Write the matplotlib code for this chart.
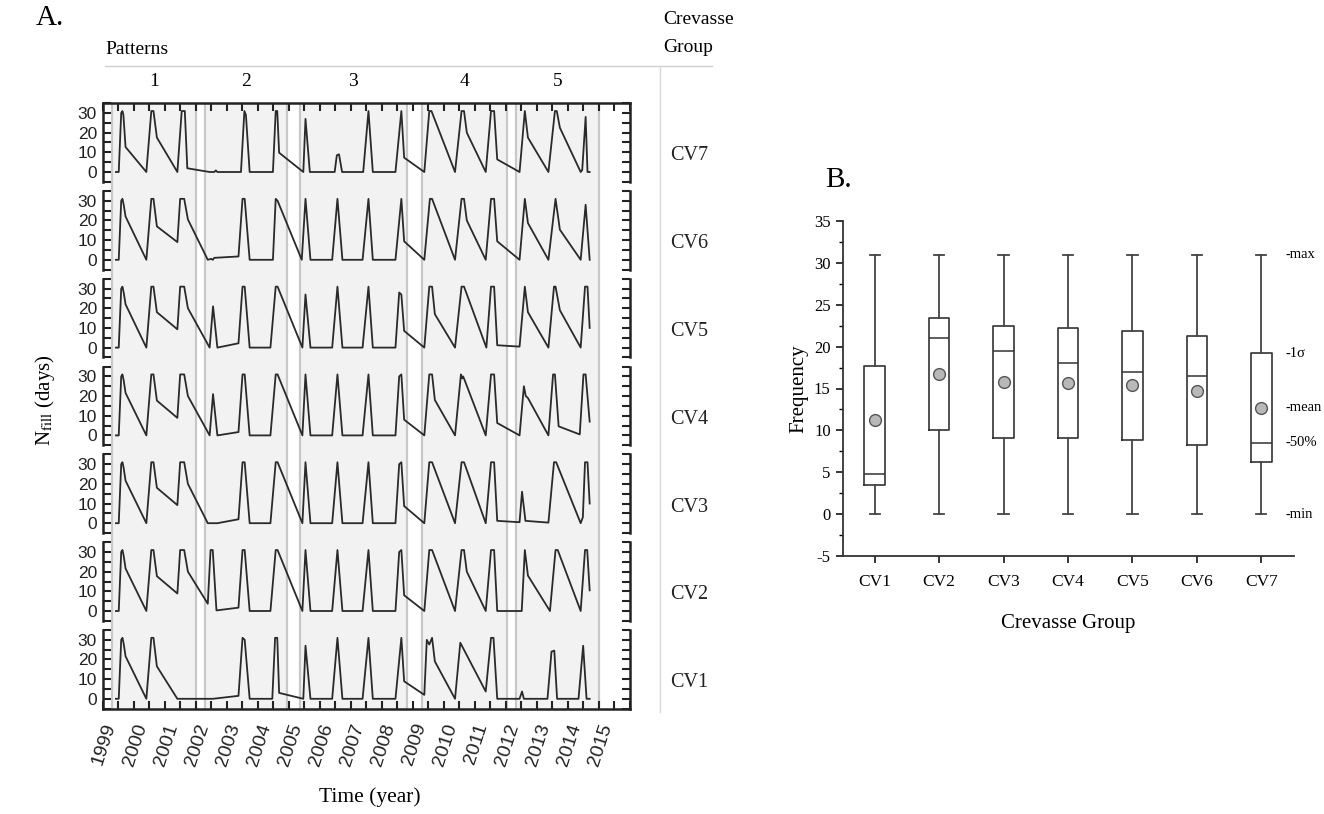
import numpy as np
import matplotlib
matplotlib.use("Agg")
from matplotlib import pyplot as plt
from matplotlib.lines import Line2D
from matplotlib.ticker import MultipleLocator, FixedLocator
import matplotlib.transforms as mtransforms

SERIF = "Liberation Serif"
SANS = "Liberation Sans"
plt.rcParams["axes.unicode_minus"] = False

# N_fill time series (decimal year, days) for each crevasse group
cv7_pts = [(1999.43, 0), (1999.52, 0), (1999.60, 30), (1999.64, 31), (1999.67, 29), (1999.74, 12.7),
           (2000.41, 0), (2000.57, 31), (2000.64, 31), (2000.75, 17.5), (2001.41, 0), (2001.55, 31),
           (2001.65, 31), (2001.73, 1.9), (2002.45, 0), (2002.60, 0), (2002.65, 0.8), (2002.70, 0),
           (2003.46, 0), (2003.57, 31), (2003.62, 29), (2003.74, 0), (2004.49, 0), (2004.58, 31),
           (2004.63, 31), (2004.69, 9.8), (2005.47, 0), (2005.54, 27), (2005.68, 0), (2006.48, 0),
           (2006.55, 8.5), (2006.62, 9), (2006.72, 0), (2007.40, 0), (2007.57, 31), (2007.71, 0),
           (2008.44, 0), (2008.63, 31), (2008.72, 7.3), (2009.37, 0), (2009.53, 31), (2009.60, 31),
           (2010.36, 0), (2010.57, 31), (2010.65, 31), (2010.74, 20), (2011.35, 0), (2011.52, 31),
           (2011.62, 31), (2011.72, 6.4), (2012.44, 0), (2012.61, 31), (2012.71, 17.5), (2013.37, 0),
           (2013.58, 31), (2013.64, 31), (2013.74, 22.5), (2014.41, 0), (2014.46, 1), (2014.57, 28),
           (2014.63, 0), (2014.70, 0)]

cv6_pts = [(1999.43, 0), (1999.52, 0), (1999.60, 30), (1999.64, 31), (1999.68, 28), (1999.74, 22),
           (2000.41, 0), (2000.57, 31), (2000.64, 31), (2000.75, 17), (2001.41, 9), (2001.50, 31),
           (2001.63, 31), (2001.75, 20.5), (2002.39, 0), (2002.50, 0.5), (2002.55, 0), (2002.60, 1),
           (2003.38, 1.7), (2003.51, 31), (2003.58, 31), (2003.74, 0), (2004.49, 0), (2004.58, 31),
           (2004.64, 30), (2005.42, 0), (2005.54, 31), (2005.70, 0), (2006.40, 0), (2006.57, 31),
           (2006.73, 0), (2007.38, 0), (2007.57, 31), (2007.71, 0), (2008.44, 0), (2008.63, 31),
           (2008.72, 9.4), (2009.37, 0), (2009.55, 31), (2009.62, 31), (2010.36, 0), (2010.57, 31),
           (2010.65, 31), (2010.74, 20), (2011.35, 0), (2011.52, 31), (2011.62, 31), (2011.72, 9.4),
           (2012.44, 0), (2012.61, 31), (2012.71, 18.7), (2013.37, 0), (2013.60, 31), (2013.74, 15.3),
           (2014.41, 0), (2014.57, 28), (2014.70, 0)]

cv5_pts = [(1999.43, 0), (1999.52, 0), (1999.60, 30), (1999.64, 31), (1999.68, 28), (1999.74, 22),
           (2000.41, 0), (2000.57, 31), (2000.64, 31), (2000.75, 18), (2001.41, 9.3), (2001.50, 31),
           (2001.63, 31), (2001.75, 20), (2002.45, 0), (2002.56, 21), (2002.70, 0), (2003.38, 2.2),
           (2003.51, 31), (2003.58, 31), (2003.74, 0), (2004.41, 0), (2004.58, 31), (2004.64, 31),
           (2005.44, 0), (2005.54, 27), (2005.70, 0), (2006.40, 0), (2006.57, 31), (2006.73, 0),
           (2007.38, 0), (2007.57, 31), (2007.71, 0), (2008.44, 0), (2008.56, 28), (2008.63, 27),
           (2008.72, 8.5), (2009.37, 0), (2009.53, 31), (2009.62, 31), (2009.71, 17), (2010.36, 0),
           (2010.57, 31), (2010.65, 31), (2011.37, 0), (2011.52, 31), (2011.62, 31), (2011.72, 1.2),
           (2012.44, 0.5), (2012.61, 31), (2012.71, 18), (2013.37, 0), (2013.55, 31), (2013.60, 31),
           (2013.74, 19), (2014.41, 0), (2014.55, 31), (2014.63, 31), (2014.70, 10)]

cv4_pts = [(1999.43, 0), (1999.52, 0), (1999.60, 30), (1999.64, 31), (1999.68, 28), (1999.74, 21.6),
           (2000.41, 0), (2000.57, 31), (2000.64, 31), (2000.75, 17.7), (2001.41, 8.9), (2001.50, 31),
           (2001.63, 31), (2001.75, 20), (2002.45, 0), (2002.56, 21), (2002.70, 0), (2003.38, 1.7),
           (2003.51, 31), (2003.58, 31), (2003.74, 0), (2004.41, 0), (2004.58, 31), (2004.64, 31),
           (2005.44, 0), (2005.54, 31), (2005.70, 0), (2006.40, 0), (2006.57, 31), (2006.73, 0),
           (2007.38, 0), (2007.57, 31), (2007.71, 0), (2008.44, 0), (2008.56, 30), (2008.63, 31),
           (2008.72, 8), (2009.37, 0), (2009.53, 31), (2009.62, 31), (2009.71, 18), (2010.36, 0),
           (2010.55, 31), (2010.59, 29), (2010.62, 30), (2010.66, 28.5), (2011.35, 0), (2011.52, 31),
           (2011.62, 31), (2011.72, 6.3), (2012.44, 0), (2012.58, 25), (2012.64, 20), (2012.71, 19),
           (2013.37, 0), (2013.52, 31), (2013.58, 31), (2013.70, 4.6), (2014.38, 0.5), (2014.50, 31),
           (2014.57, 31), (2014.70, 7)]

cv3_pts = [(1999.43, 0), (1999.52, 0), (1999.60, 30), (1999.64, 31), (1999.68, 28), (1999.74, 21.6),
           (2000.41, 0), (2000.57, 31), (2000.64, 31), (2000.75, 18), (2001.41, 9.2), (2001.50, 31),
           (2001.63, 31), (2001.75, 20), (2002.39, 0), (2002.70, 0), (2003.38, 2), (2003.51, 31),
           (2003.58, 31), (2003.74, 0), (2004.41, 0), (2004.58, 31), (2004.64, 31), (2005.44, 0),
           (2005.54, 31), (2005.70, 0), (2006.40, 0), (2006.57, 31), (2006.73, 0), (2007.38, 0),
           (2007.57, 31), (2007.71, 0), (2008.44, 0), (2008.56, 30), (2008.63, 31), (2008.72, 8.7),
           (2009.37, 0), (2009.53, 31), (2009.62, 31), (2010.36, 0), (2010.57, 31), (2010.65, 31),
           (2011.35, 0), (2011.52, 31), (2011.62, 31), (2011.72, 1.2), (2012.44, 0.5), (2012.52, 16),
           (2012.63, 1.2), (2013.37, 0.3), (2013.55, 31), (2013.62, 31), (2014.41, 0), (2014.48, 3),
           (2014.55, 31), (2014.63, 31), (2014.70, 10)]

cv2_pts = [(1999.43, 0), (1999.52, 0), (1999.60, 30), (1999.64, 31), (1999.68, 28), (1999.74, 21.6),
           (2000.41, 0), (2000.57, 31), (2000.64, 31), (2000.75, 17.7), (2001.41, 8.9), (2001.50, 31),
           (2001.63, 31), (2001.75, 20), (2002.39, 3.7), (2002.48, 31), (2002.55, 31), (2002.67, 0.3),
           (2003.38, 1.7), (2003.51, 31), (2003.58, 31), (2003.74, 0), (2004.41, 0), (2004.58, 31),
           (2004.64, 31), (2005.44, 0), (2005.54, 31), (2005.70, 0), (2006.40, 0), (2006.57, 31),
           (2006.73, 0), (2007.38, 0), (2007.57, 31), (2007.71, 0), (2008.44, 0), (2008.56, 30),
           (2008.63, 31), (2008.72, 8), (2009.37, 0), (2009.53, 31), (2009.62, 31), (2010.36, 0),
           (2010.57, 31), (2010.65, 31), (2010.74, 20), (2011.35, 0), (2011.52, 31), (2011.62, 31),
           (2011.72, 0), (2012.51, 0), (2012.61, 31), (2012.71, 18), (2013.42, 0), (2013.60, 31),
           (2013.67, 31), (2014.41, 0), (2014.55, 31), (2014.62, 31), (2014.70, 10.5)]

cv1_pts = [(1999.43, 0), (1999.52, 0), (1999.60, 30), (1999.64, 31), (1999.68, 28), (1999.74, 21.6),
           (2000.41, 0), (2000.57, 31), (2000.64, 31), (2000.75, 16.5), (2001.41, 0), (2002.55, 0),
           (2003.38, 1.5), (2003.51, 31), (2003.58, 30), (2003.74, 0), (2004.47, 0), (2004.56, 31),
           (2004.63, 31), (2004.69, 3), (2005.47, 0), (2005.54, 27), (2005.70, 0), (2006.40, 0),
           (2006.57, 31), (2006.73, 0), (2007.38, 0), (2007.57, 31), (2007.71, 0), (2008.44, 0),
           (2008.63, 31), (2008.72, 8.9), (2009.37, 2), (2009.45, 30), (2009.53, 27.6), (2009.62, 31),
           (2009.71, 19), (2010.36, 0), (2010.53, 28.5), (2011.35, 3.7), (2011.52, 31), (2011.60, 31),
           (2011.72, 0), (2012.44, 0), (2012.52, 3.7), (2012.58, 0), (2013.34, 0), (2013.47, 24),
           (2013.56, 24.5), (2013.65, 0), (2014.34, 0), (2014.49, 27), (2014.60, 0), (2014.70, 0)]

groups = ["CV7", "CV6", "CV5", "CV4", "CV3", "CV2", "CV1"]
series = [cv7_pts, cv6_pts, cv5_pts, cv4_pts, cv3_pts, cv2_pts, cv1_pts]

# pattern periods (start, end) in decimal years
pattern_ids = ["1", "2", "3", "4", "5"]
pattern_start = [1999.29, 2002.31, 2005.36, 2009.28, 2012.34]
pattern_end = [2002.02, 2004.95, 2008.80, 2012.05, 2015.01]

years = list(range(1999, 2016))

# box statistics per crevasse group
box_labels = ["CV1", "CV2", "CV3", "CV4", "CV5", "CV6", "CV7"]
box_min = [0, 0, 0, 0, 0, 0, 0]
box_max = [31, 31, 31, 31, 31, 31, 31]
box_q1 = [3.5, 10.1, 9.1, 9.1, 8.9, 8.2, 6.2]
box_med = [4.8, 21.0, 19.5, 18.0, 17.0, 16.5, 8.5]
box_q3 = [17.7, 23.4, 22.5, 22.2, 21.9, 21.3, 19.2]
box_mean = [11.2, 16.7, 15.8, 15.6, 15.4, 14.7, 12.7]

W, H = 1324, 814
fig = plt.figure(figsize=(W / 100, H / 100), dpi=100)
fig.patch.set_facecolor("white")


def fx(px):
    return px / W


def fy(py):
    return 1 - py / H


# ---------------- panel A ----------------
a_left, a_right = 102.6, 630.0
zero0, step, unit = 172.0, 87.8, 59.0 / 30
panel_h = 40 * unit
a_top = zero0 - 35 * unit
a_bot = zero0 + 5 * unit + 6 * step
xlim = (1999, 2016)

bg = fig.add_axes([fx(a_left), fy(a_bot), fx(a_right - a_left), (a_bot - a_top) / H], zorder=0)
bg.set_xlim(*xlim)
bg.set_ylim(0, 1)
bg.axis("off")
for s, e in zip(pattern_start, pattern_end):
    bg.axvspan(s, e, color="#f2f2f2", lw=0)
    bg.axvline(s, color="#c8c8c8", lw=1.6)
    bg.axvline(e, color="#c8c8c8", lw=1.6)

axes_a = []
for k, (name, pts) in enumerate(zip(groups, series)):
    y0 = zero0 + k * step
    ax = fig.add_axes([fx(a_left), fy(y0 + 5 * unit), fx(a_right - a_left), panel_h / H], zorder=2)
    ax.patch.set_alpha(0)
    arr = np.array(pts)
    ax.plot(arr[:, 0], arr[:, 1], color="#2a2a2a", lw=1.3)
    ax.set_xlim(*xlim)
    ax.set_ylim(-5, 35)
    for side in ["left", "right", "top", "bottom"]:
        ax.spines[side].set_linewidth(1.8)
        ax.spines[side].set_color("#222222")
    ax.spines["top"].set_visible(k == 0)
    ax.spines["bottom"].set_visible(k == 6)
    ax.yaxis.set_major_locator(FixedLocator([0, 10, 20, 30]))
    ax.yaxis.set_minor_locator(FixedLocator([-5, 5, 15, 25, 35]))
    ax.tick_params(axis="y", which="both", direction="in", left=True, right=True,
                   length=6, width=1.5, labelsize=12.5, pad=4, colors="#222222")
    for t in ax.get_yticklabels():
        t.set_fontfamily(SANS)
    ax.xaxis.set_major_locator(FixedLocator(years))
    ax.xaxis.set_minor_locator(MultipleLocator(0.5))
    ax.tick_params(axis="x", which="both", direction="in", top=(k == 0), bottom=(k == 6),
                   labelbottom=(k == 6), length=6, width=1.5, colors="#222222")
    ax.text(1.112, 0.33, name, transform=ax.transAxes, fontfamily=SERIF, fontsize=14.5,
            ha="center", va="center", color="#222222")
    axes_a.append(ax)

ax_last = axes_a[-1]
ax_last.set_xticklabels([str(y) for y in years], rotation=72, ha="right",
                        rotation_mode="anchor", fontfamily=SANS, fontsize=14)
ax_last.tick_params(axis="x", which="major", pad=9)

# header: patterns and crevasse group column
fig.add_artist(Line2D([fx(105), fx(712)], [fy(66), fy(66)], color="#d0d0d0", lw=1.0))
fig.add_artist(Line2D([fx(660), fx(660)], [fy(66), fy(712)], color="#d8d8d8", lw=1.0))
fig.text(fx(105), fy(50), "Patterns", fontfamily=SERIF, fontsize=14, ha="left", va="center")
fig.text(fx(663), fy(20), "Crevasse", fontfamily=SERIF, fontsize=14, ha="left", va="center")
fig.text(fx(663), fy(48), "Group", fontfamily=SERIF, fontsize=14, ha="left", va="center")
hdr = mtransforms.blended_transform_factory(bg.transData, fig.transFigure)
for pid, s, e in zip(pattern_ids, pattern_start, pattern_end):
    fig.text((s + e) / 2, fy(82), pid, transform=hdr, fontfamily=SERIF, fontsize=14,
             ha="center", va="center")

fig.text(fx(50), fy(18), "A.", fontfamily=SERIF, fontsize=21, ha="center", va="center")
fig.text(fx(45), fy(400), r"N$_{\mathrm{fill}}$ (days)", fontfamily=SERIF, fontsize=15,
         rotation=90, ha="center", va="center", math_fontfamily="stix")
fig.text(fx(370), fy(797), "Time (year)", fontfamily=SERIF, fontsize=15.5, ha="center", va="center")

# ---------------- panel B ----------------
b_left, b_right, b_top, b_bot = 842.5, 1293.5, 221.0, 556.0
axb = fig.add_axes([fx(b_left), fy(b_bot), fx(b_right - b_left), (b_bot - b_top) / H])
stats = []
for lab, lo, q1, md, q3, hi, mn in zip(box_labels, box_min, box_q1, box_med, box_q3, box_max, box_mean):
    stats.append(dict(label=lab, whislo=lo, q1=q1, med=md, q3=q3, whishi=hi, mean=mn, fliers=[]))
axb.bxp(stats, widths=0.32, capwidths=0.16, showmeans=True, showfliers=False,
        boxprops=dict(color="#333333", lw=1.2),
        whiskerprops=dict(color="#444444", lw=1.3),
        capprops=dict(color="#444444", lw=1.3),
        medianprops=dict(color="#333333", lw=1.1),
        meanprops=dict(marker="o", markerfacecolor="#b8b8b8", markeredgecolor="#555555",
                       markersize=8.5, markeredgewidth=1.0))
axb.set_xlim(0.5, 7.5)
axb.set_ylim(-5, 35)
axb.spines["top"].set_visible(False)
axb.spines["right"].set_visible(False)
for side in ["left", "bottom"]:
    axb.spines[side].set_linewidth(1.3)
    axb.spines[side].set_color("#333333")
axb.yaxis.set_major_locator(MultipleLocator(5))
axb.yaxis.set_minor_locator(MultipleLocator(2.5))
axb.tick_params(axis="y", which="major", direction="out", length=5, width=1.1, labelsize=12)
axb.tick_params(axis="y", which="minor", direction="out", length=3, width=1.0)
axb.tick_params(axis="x", which="major", direction="out", length=5, width=1.1, labelsize=12.5, pad=8)
for t in axb.get_xticklabels() + axb.get_yticklabels():
    t.set_fontfamily(SERIF)
axb.set_xlabel("Crevasse Group", fontfamily=SERIF, fontsize=15, labelpad=17)
axb.set_ylabel("Frequency", fontfamily=SERIF, fontsize=15, labelpad=4)

# notes beside the last box naming each statistic
i7 = len(box_labels) - 1
notes = [("-max", box_max[i7]), ("-1σ", box_q3[i7]), ("-mean", box_mean[i7]),
         ("-50%", box_med[i7]), ("-min", box_min[i7])]
for txt, val in notes:
    axb.text(7.38, val, txt, fontfamily=SERIF, fontsize=10.5, ha="left", va="center",
             clip_on=False)

fig.text(fx(838), fy(180), "B.", fontfamily=SERIF, fontsize=21, ha="center", va="center")

fig.savefig("out.png", dpi=100, facecolor="white")
